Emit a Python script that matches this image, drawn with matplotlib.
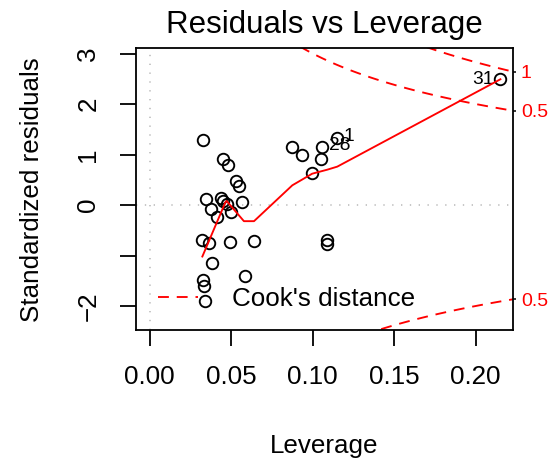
import numpy as np
import matplotlib
matplotlib.use("Agg")
import matplotlib.pyplot as plt
from matplotlib.lines import Line2D

# ---- data ----
leverage = [0.0329, 0.0452, 0.0482, 0.0527, 0.0545, 0.0343, 0.0438, 0.0448,
            0.0472, 0.0374, 0.0415, 0.0497, 0.0568, 0.0323, 0.0364, 0.0492,
            0.0640, 0.0380, 0.0584, 0.0329, 0.0333, 0.0339, 0.0875, 0.0936,
            0.1059, 0.1053, 0.1151, 0.0997, 0.1090, 0.1090, 0.2152]
std_resid = [1.28, 0.92, 0.79, 0.47, 0.37, 0.11, 0.14, 0.07,
             0.02, -0.07, -0.23, -0.13, 0.06, -0.70, -0.76, -0.74,
             -0.71, -1.14, -1.40, -1.48, -1.61, -1.91, 1.15, 0.99,
             1.15, 0.92, 1.32, 0.64, -0.69, -0.78, 2.49]
point_ids = [None] * 31
point_ids[24] = "28"
point_ids[26] = "1"
point_ids[30] = "31"

smooth_x = [0.0323, 0.0465, 0.0472, 0.0578, 0.0640, 0.0875, 0.0997, 0.1090, 0.1151, 0.2152]
smooth_y = [-1.02, 0.06, 0.08, -0.32, -0.32, 0.39, 0.62, 0.70, 0.76, 2.49]

cook_levels = [0.5, 1.0]
n_params = 2

x_ticks = [0.00, 0.05, 0.10, 0.15, 0.20]
x_tick_labels = ["0.00", "0.05", "0.10", "0.15", "0.20"]
y_ticks = [-2, -1, 0, 1, 2, 3]
y_tick_labels = ["\u22122", "", "0", "1", "2", "3"]

# ---- figure ----
plt.rcParams['font.family'] = ['Liberation Sans', 'DejaVu Sans']
W, H, DPI = 556, 462, 100
fig = plt.figure(figsize=(W / DPI, H / DPI), dpi=DPI)
left, right, top, bottom = 135.7, 513.3, 48.3, 330.0
ax = fig.add_axes([left / W, 1 - bottom / H, (right - left) / W, (bottom - top) / H])

xlim = (-0.0086, 0.2231)
ylim = (-2.475, 3.103)
ax.set_xlim(*xlim)
ax.set_ylim(*ylim)

red = "#FF0000"
gray = "#BEBEBE"
LW = 1.35

# reference lines
ax.axhline(0, color=gray, lw=1.2, linestyle=(0, (0.8, 4.5)), zorder=1)
ax.axvline(0, color=gray, lw=1.2, linestyle=(0, (0.8, 4.5)), zorder=1)

# Cook's distance contours
hh = np.linspace(min(min(leverage), max(leverage) / 100), xlim[1], 101)
for lev in cook_levels:
    cl = np.sqrt(lev * n_params * (1 - hh) / hh)
    ax.plot(hh, cl, color=red, lw=LW, linestyle=(0, (5.8, 4.2)), zorder=2)
    ax.plot(hh, -cl, color=red, lw=LW, linestyle=(0, (5.8, 4.2)), zorder=2)

# points
ax.plot(leverage, std_resid, linestyle="none", marker="o", markersize=8.3,
        markerfacecolor="none", markeredgecolor="black", markeredgewidth=1.35, zorder=3)

# smoother
ax.plot(smooth_x, smooth_y, color=red, lw=LW, zorder=4)

# point labels
mid = (min(leverage) + max(leverage)) / 2
for x, y, lab in zip(leverage, std_resid, point_ids):
    if lab is None:
        continue
    if x > mid:
        ax.annotate(lab, (x, y), xytext=(-5, 0), textcoords="offset points",
                    ha="right", va="center", fontsize=13.8)
    else:
        ax.annotate(lab, (x, y), xytext=(4.5, 1.2), textcoords="offset points",
                    ha="left", va="center", fontsize=13.8)

# axes styling
for s in ax.spines.values():
    s.set_linewidth(1.3)
ax.set_xticks(x_ticks)
ax.set_xticklabels(x_tick_labels)
ax.set_yticks(y_ticks)
ax.set_yticklabels(y_tick_labels, rotation=90, va="center")
ax.tick_params(axis="both", length=11.5, width=1.3, labelsize=18.7)
ax.tick_params(axis="x", pad=14)
ax.tick_params(axis="y", pad=14)

# right axis with cook levels
ax2 = ax.twinx()
ax2.set_ylim(*ylim)
r_ticks, r_labels = [], []
for lev in cook_levels:
    v = np.sqrt(lev * n_params * (1 - xlim[1]) / xlim[1])
    for val in (v, -v):
        if ylim[0] <= val <= ylim[1]:
            r_ticks.append(val)
            r_labels.append(f"{lev:g}")
ax2.set_yticks(r_ticks)
ax2.set_yticklabels(r_labels, color=red)
ax2.tick_params(axis="y", length=2.5, width=1.1, labelsize=14, pad=3)
for s in ax2.spines.values():
    s.set_visible(False)

# legend
h = Line2D([], [], color=red, lw=LW, linestyle=(0, (5.8, 4.2)))
ax.legend([h], ["Cook's distance"], loc="center left",
          bbox_to_anchor=(0.059, 0.110), frameon=False, fontsize=18.7,
          handlelength=1.55, handletextpad=1.3, borderpad=0, borderaxespad=0)

ax.set_title("Residuals vs Leverage", fontsize=22.5, pad=11)
ax.set_xlabel("Leverage", fontsize=18.7, labelpad=32)
ax.set_ylabel("Standardized residuals", fontsize=18.7, labelpad=23)

fig.savefig("out.png", dpi=DPI)
